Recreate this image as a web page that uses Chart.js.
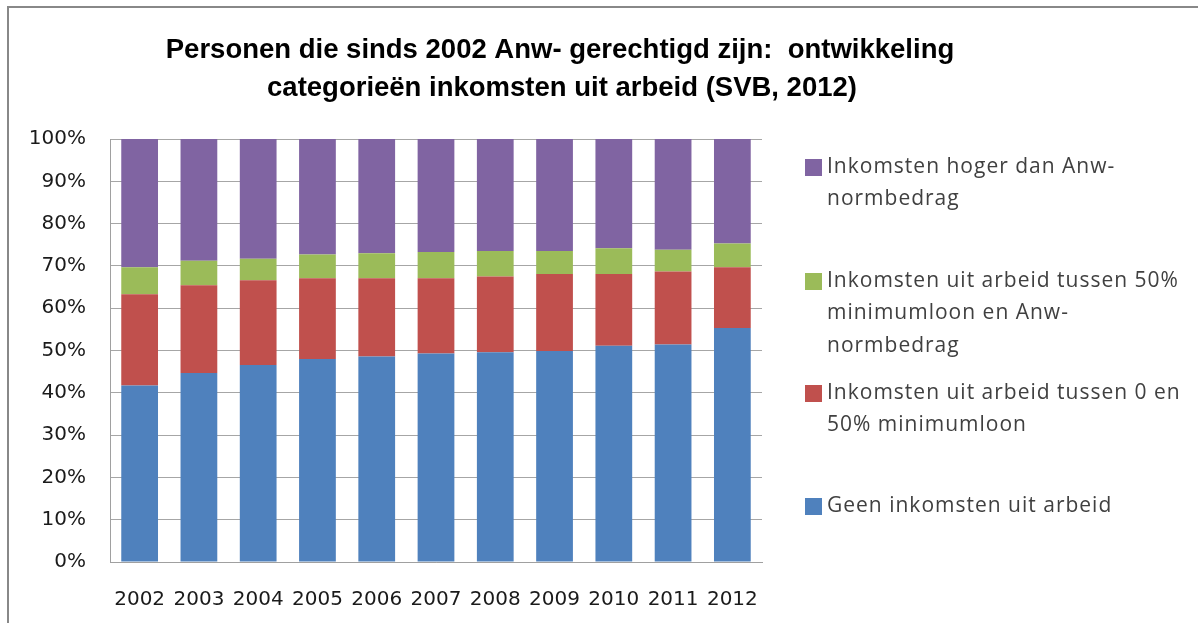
<!DOCTYPE html>
<html>
<head>
<meta charset="utf-8">
<script src="https://cdn.jsdelivr.net/npm/chart.js@4.4.1/dist/chart.umd.min.js"></script>
<style>
    html, body { margin: 0; padding: 0; background: #fff; }
    #wrap { width: 1198px; height: 623px; position: relative; }
</style>
</head>
<body>
<div id="wrap"><canvas id="chart" width="1198" height="623"></canvas></div>
<script>
const years = ["2002", "2003", "2004", "2005", "2006", "2007", "2008", "2009", "2010", "2011", "2012"];

// percentages per category
const geen = [41.7, 44.7, 46.6, 48.0, 48.6, 49.3, 49.6, 49.9, 51.1, 51.4, 55.3];
const tot50 = [21.6, 20.7, 20.0, 19.1, 18.5, 17.8, 17.9, 18.2, 17.0, 17.3, 14.4];
const tot_anw = [6.4, 5.8, 5.1, 5.6, 5.9, 6.2, 6.0, 5.4, 6.1, 5.1, 5.6];
const hoger = [30.3, 28.8, 28.3, 27.3, 27.0, 26.7, 26.5, 26.5, 25.8, 26.2, 24.7];

const titleLines = [
    "Personen die sinds 2002 Anw- gerechtigd zijn:  ontwikkeling",
    "categorieën inkomsten uit arbeid (SVB, 2012)"
];

// legend text, top to bottom, already wrapped like the original
const legendItems = [
    { color: "#8064A2", lines: ["Inkomsten hoger dan Anw-", "normbedrag"] },
    { color: "#9BBB59", lines: ["Inkomsten uit arbeid tussen 50%", "minimumloon en Anw-", "normbedrag"] },
    { color: "#C0504D", lines: ["Inkomsten uit arbeid tussen 0 en", "50% minimumloon"] },
    { color: "#4F81BD", lines: ["Geen inkomsten uit arbeid"] }
];
const legendTop = [167, 281, 393, 506];

const decor = {
    id: "decor",
    afterDraw(chart) {
        const ctx = chart.ctx;
        ctx.save();

        // outer frame
        ctx.strokeStyle = "#888";
        ctx.lineWidth = 2;
        ctx.beginPath();
        ctx.moveTo(8, 623);
        ctx.lineTo(8, 7);
        ctx.lineTo(1198, 7);
        ctx.stroke();

        // title
        ctx.fillStyle = "#000";
        ctx.font = "bold 27.5px 'Liberation Sans'";
        ctx.textAlign = "center";
        ctx.textBaseline = "middle";
        ctx.fillText(titleLines[0], 560, 50);
        ctx.fillText(titleLines[1], 562, 88);

        // legend
        ctx.textAlign = "left";
        ctx.font = "21px 'Open Sans'";
        ctx.letterSpacing = "1px";
        legendItems.forEach((it, i) => {
            const y0 = legendTop[i];
            ctx.fillStyle = it.color;
            ctx.fillRect(805, y0 - 8, 17, 17);
            ctx.fillStyle = "#404040";
            it.lines.forEach((t, j) => ctx.fillText(t, 827, y0 + j * 32.5));
        });

        ctx.restore();
    }
};

new Chart(document.getElementById("chart"), {
    type: "bar",
    data: {
        labels: years,
        datasets: [
            { label: "Geen inkomsten uit arbeid", data: geen, backgroundColor: "#4F81BD" },
            { label: "Inkomsten uit arbeid tussen 0 en 50% minimumloon", data: tot50, backgroundColor: "#C0504D" },
            { label: "Inkomsten uit arbeid tussen 50% minimumloon en Anw-normbedrag", data: tot_anw, backgroundColor: "#9BBB59" },
            { label: "Inkomsten hoger dan Anw-normbedrag", data: hoger, backgroundColor: "#8064A2" }
        ]
    },
    options: {
        responsive: false,
        animation: false,
        layout: { padding: { left: 0, top: 139, right: 436, bottom: 0 } },
        datasets: { bar: { barPercentage: 0.62, categoryPercentage: 1 } },
        plugins: {
            legend: { display: false },
            title: { display: false },
            tooltip: { enabled: false }
        },
        scales: {
            x: {
                stacked: true,
                grid: { display: false },
                border: { color: "#a0a0a0", width: 1 },
                ticks: { color: "#1a1a1a", font: { family: "DejaVu Sans", size: 20 }, padding: 18, maxRotation: 0, autoSkip: false },
                afterFit(s) { s.height = 61; }
            },
            y: {
                stacked: true,
                min: 0,
                max: 100,
                grid: { color: "#a6a6a6", drawTicks: false },
                border: { color: "#a0a0a0", width: 1 },
                ticks: {
                    stepSize: 10,
                    color: "#1a1a1a",
                    padding: 24,
                    font: { family: "DejaVu Sans", size: 20 },
                    callback: v => v + "%"
                },
                afterFit(s) { s.width = 110; }
            }
        }
    },
    plugins: [decor]
});
</script>
</body>
</html>
